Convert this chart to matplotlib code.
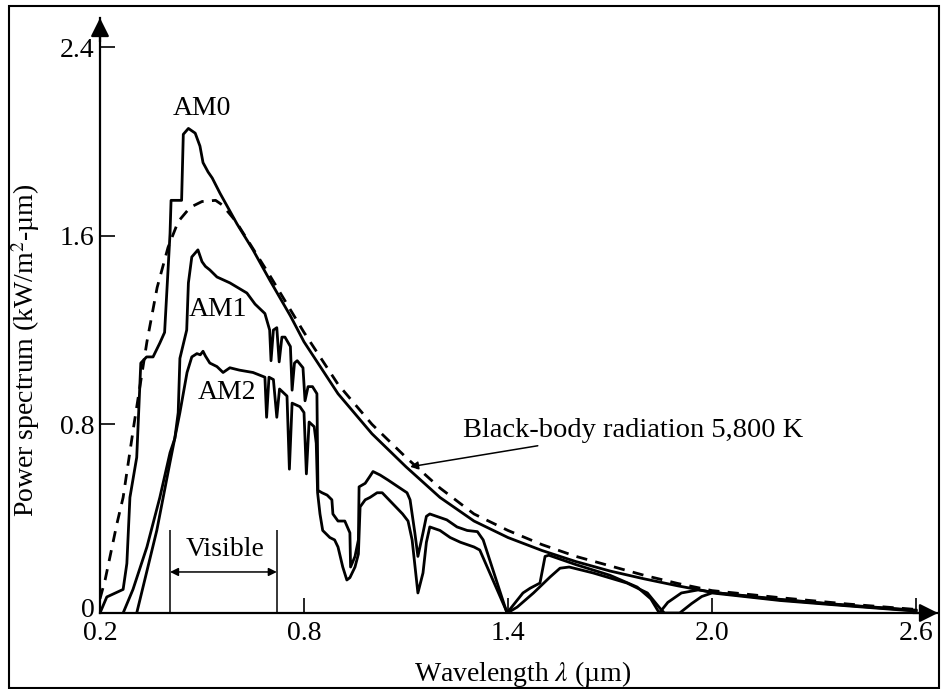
import matplotlib
matplotlib.use("Agg")
import matplotlib.pyplot as plt
import matplotlib.transforms as mtransforms
from matplotlib.patches import Rectangle

# solar spectra, wavelength [um] vs power [kW/m^2-um]
am0_wl = [0.2, 0.22, 0.268, 0.279, 0.288, 0.308, 0.32, 0.337, 0.356, 0.376, 0.39,
          0.406, 0.409, 0.44, 0.445, 0.46, 0.48, 0.494, 0.503, 0.518, 0.53, 0.553,
          0.603, 0.65, 0.7, 0.76, 0.8, 0.9, 1.0, 1.1, 1.2, 1.3, 1.4, 1.5, 1.6,
          1.7, 1.8, 1.9, 2.0, 2.2, 2.4, 2.6]
am0_pw = [0.0, 0.068, 0.10, 0.21, 0.49, 0.66, 1.06, 1.086, 1.086, 1.145, 1.19,
          1.61, 1.75, 1.75, 2.03, 2.055, 2.035, 1.98, 1.91, 1.87, 1.845, 1.78,
          1.65, 1.54, 1.41, 1.26, 1.15, 0.93, 0.76, 0.62, 0.49, 0.39, 0.32, 0.265, 0.218,
          0.178, 0.145, 0.115, 0.088, 0.058, 0.033, 0.012]

am1_wl = [0.268, 0.297, 0.338, 0.376, 0.406, 0.42, 0.43, 0.435, 0.45, 0.455, 0.46,
          0.47, 0.488, 0.5, 0.51, 0.523, 0.544, 0.582, 0.632, 0.656, 0.685, 0.699,
          0.703, 0.71, 0.72, 0.727, 0.735, 0.744, 0.76, 0.765, 0.772, 0.78, 0.797,
          0.803, 0.812, 0.825, 0.838, 0.841, 0.853, 0.868, 0.882, 0.885, 0.9, 0.92,
          0.935, 0.937, 0.95, 0.96, 0.962, 0.98, 0.994, 1.003, 1.024, 1.047, 1.077,
          1.103, 1.112, 1.126, 1.135, 1.15, 1.16, 1.17, 1.19, 1.22, 1.25, 1.28,
          1.31, 1.327, 1.397, 1.444, 1.465, 1.494, 1.509, 1.52, 1.6, 1.7, 1.78,
          1.82, 1.845, 1.87, 1.91, 1.96, 2.0, 2.2, 2.4, 2.6]
am1_pw = [0.0, 0.10, 0.28, 0.49, 0.68, 0.74, 0.85, 1.08, 1.17, 1.2, 1.4,
          1.51, 1.54, 1.49, 1.47, 1.455, 1.425, 1.40, 1.357, 1.31, 1.27, 1.2,
          1.07, 1.2, 1.21, 1.065, 1.17, 1.17, 1.13, 0.945, 1.06, 1.07, 1.04,
          0.90, 0.96, 0.96, 0.93, 0.52, 0.51, 0.50, 0.48, 0.42, 0.39, 0.39,
          0.34, 0.195, 0.24, 0.31, 0.535, 0.55, 0.58, 0.60, 0.585, 0.564, 0.535,
          0.51, 0.48, 0.34, 0.24, 0.34, 0.41, 0.42, 0.41, 0.395, 0.365, 0.35,
          0.345, 0.31, 0.0, 0.085, 0.105, 0.127, 0.24, 0.245, 0.205, 0.16, 0.11,
          0.06, 0.0, 0.045, 0.085, 0.098, 0.088, 0.056, 0.032, 0.01]

am2_wl = [0.308, 0.367, 0.406, 0.435, 0.456, 0.47, 0.485, 0.495, 0.503, 0.51,
          0.523, 0.544, 0.562, 0.582, 0.61, 0.65, 0.685, 0.69, 0.697, 0.71, 0.72,
          0.728, 0.75, 0.757, 0.765, 0.788, 0.80, 0.807, 0.815, 0.83, 0.836, 0.84,
          0.847, 0.855, 0.876, 0.89, 0.9, 0.914, 0.926, 0.935, 0.95, 0.96, 0.965,
          0.98, 0.994, 1.015, 1.03, 1.06, 1.09, 1.106, 1.118, 1.135, 1.15, 1.16,
          1.17, 1.2, 1.23, 1.26, 1.3, 1.317, 1.398, 1.427, 1.475, 1.524, 1.553,
          1.58, 1.65, 1.75, 1.81, 1.847, 1.86, 1.905, 1.94, 1.97, 2.0, 2.2, 2.4, 2.6]
am2_pw = [0.0, 0.35, 0.64, 0.85, 1.02, 1.086, 1.10, 1.095, 1.11, 1.09,
          1.06, 1.045, 1.02, 1.04, 1.03, 1.02, 1.0, 0.83, 1.0, 0.99, 0.83,
          0.95, 0.92, 0.61, 0.89, 0.875, 0.85, 0.59, 0.81, 0.79, 0.72, 0.51,
          0.42, 0.35, 0.32, 0.31, 0.28, 0.195, 0.14, 0.15, 0.195, 0.25, 0.45,
          0.48, 0.49, 0.51, 0.51, 0.465, 0.42, 0.39, 0.31, 0.085, 0.17, 0.30,
          0.365, 0.35, 0.32, 0.30, 0.28, 0.267, 0.0, 0.025, 0.085, 0.153, 0.19,
          0.195, 0.17, 0.127, 0.085, 0.02, 0.0, 0.0, 0.04, 0.07, 0.085, 0.053, 0.03, 0.008]

# black-body 5,800 K, scaled
bb_wl = [0.2, 0.215, 0.25, 0.268, 0.3, 0.338, 0.368, 0.4, 0.43, 0.465, 0.5, 0.54,
         0.56, 0.6, 0.7, 0.8, 0.9, 1.0, 1.1, 1.2, 1.3, 1.4, 1.5, 1.6, 1.7, 1.8,
         1.9, 2.0, 2.2, 2.4, 2.6]
bb_pw = [0.06, 0.14, 0.38, 0.49, 0.8, 1.15, 1.38, 1.55, 1.66, 1.72, 1.745, 1.75,
         1.73, 1.66, 1.43, 1.19, 0.97, 0.80, 0.66, 0.53, 0.42, 0.35, 0.29, 0.24,
         0.20, 0.16, 0.125, 0.095, 0.065, 0.038, 0.015]

visible_band = (0.406, 0.72)

W, H = 941, 689
x0, y0 = 100, 613          # pixel position of (0.2, 0)
px_per_um, px_per_unit = 340.0, 235.8
x_tip, y_tip = 938, 18     # axis arrow tips

plt.rcParams["font.family"] = ["Liberation Serif", "DejaVu Serif"]
plt.rcParams["mathtext.fontset"] = "stix"
fs = 20

fig = plt.figure(figsize=(W / 100, H / 100), dpi=100)
ax = fig.add_axes([x0 / W, 1 - y0 / H, (x_tip - x0) / W, (y0 - y_tip) / H])
ax.set_xlim(0.2, 0.2 + (x_tip - x0) / px_per_um)
ax.set_ylim(0, (y0 - y_tip) / px_per_unit)
ax.patch.set_alpha(0)

lw = 2.0
ax.plot(am0_wl, am0_pw, color="k", lw=lw, solid_joinstyle="round")
ax.plot(am1_wl, am1_pw, color="k", lw=lw, solid_joinstyle="round")
ax.plot(am2_wl, am2_pw, color="k", lw=lw, solid_joinstyle="round")
ax.plot(bb_wl, bb_pw, color="k", lw=lw, ls=(0, (4, 3)))

# visible band marker
v_lo, v_hi = visible_band
ax.vlines([v_lo, v_hi], 0, 0.35, color="k", lw=1.1)
ax.annotate("", xy=(v_lo, 0.174), xytext=(v_hi, 0.174),
            arrowprops=dict(arrowstyle="<|-|>", color="k", lw=1.1, mutation_scale=12,
                            shrinkA=0, shrinkB=0))
ax.text((v_lo + v_hi) / 2 + 0.005, 0.27, "Visible", ha="center", va="center", fontsize=fs)

ax.text(0.50, 2.14, "AM0", ha="center", va="center", fontsize=fs)
ax.text(0.547, 1.285, "AM1", ha="center", va="center", fontsize=fs)
ax.text(0.573, 0.937, "AM2", ha="center", va="center", fontsize=fs)

ax.annotate("Black-body radiation 5,800 K", xy=(1.112, 0.62), xytext=(1.268, 0.776),
            ha="left", va="center", fontsize=20.5,
            arrowprops=dict(arrowstyle="-|>", color="k", lw=1.1, mutation_scale=12,
                            shrinkA=2, shrinkB=0))

# axes drawn as arrows, only left and bottom
for s in ("top", "right"):
    ax.spines[s].set_visible(False)
for s in ("left", "bottom"):
    ax.spines[s].set_linewidth(1.6)
ax.annotate("", xy=(1, 0), xytext=(0.97, 0), xycoords="axes fraction",
            arrowprops=dict(arrowstyle="-|>", color="k", lw=1.6, mutation_scale=28,
                            shrinkA=0, shrinkB=0))
ax.annotate("", xy=(0, 1), xytext=(0, 0.96), xycoords="axes fraction",
            arrowprops=dict(arrowstyle="-|>", color="k", lw=1.6, mutation_scale=28,
                            shrinkA=0, shrinkB=0))

ax.set_xticks([0.2, 0.8, 1.4, 2.0, 2.6])
ax.set_xticklabels(["0.2", "0.8", "1.4", "2.0", "2.6"])
ax.set_yticks([0, 0.8, 1.6, 2.4])
ax.set_yticklabels(["0", "0.8", "1.6", "2.4"])
ax.tick_params(axis="both", direction="in", length=11, width=1.2, labelsize=fs)
ax.tick_params(axis="x", pad=6)
ax.tick_params(axis="y", pad=4)

# lift the "0" label a little so it clears "0.2"
zero_lbl = ax.get_yticklabels()[0]
zero_lbl.set_transform(zero_lbl.get_transform() +
                       mtransforms.ScaledTranslation(0, 4 / 72, fig.dpi_scale_trans))

ax.set_xlabel(r"Wavelength $\lambda$ (µm)", fontsize=fs)
ax.set_ylabel(r"Power spectrum (kW/m$^2$-µm)", fontsize=fs)
ax.xaxis.set_label_coords((523 - x0) / (x_tip - x0), -(659 - y0) / (y0 - y_tip))
ax.yaxis.set_label_coords(-(x0 - 42) / (x_tip - x0), (y0 - 350) / (y0 - y_tip))

# outer frame
fig.patches.append(Rectangle((9 / W, 1 / H), 930 / W, 682 / H, transform=fig.transFigure,
                             fill=False, edgecolor="k", lw=1.5))

fig.savefig("out.png", dpi=100)
